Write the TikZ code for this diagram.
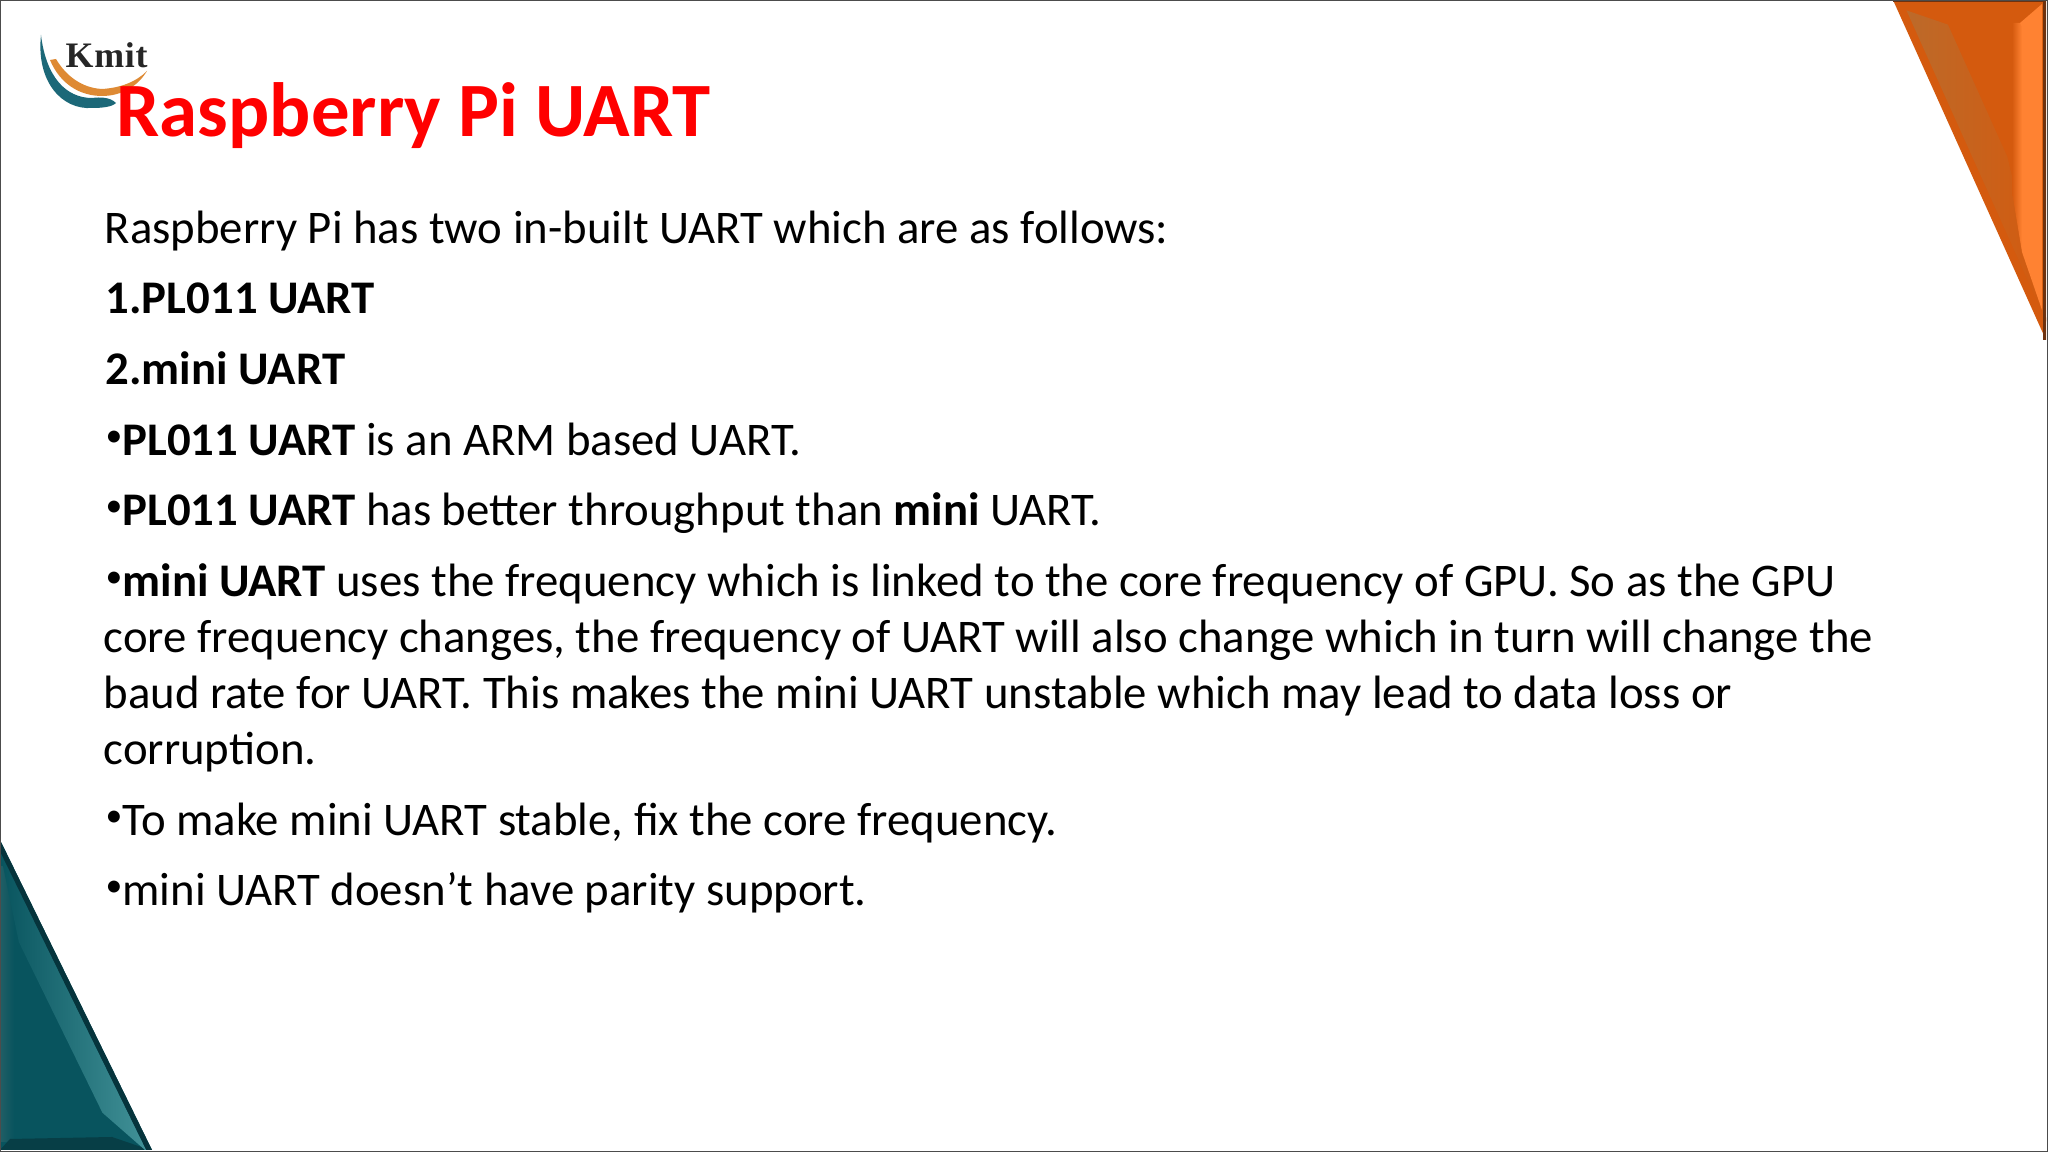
\documentclass[tikz,border=0pt]{standalone}
\usepackage{fontspec}
\setmainfont{Carlito}
\usepackage{tikz}
\usetikzlibrary{calc}
\definecolor{titlered}{RGB}{255,0,0}
\definecolor{orangemain}{RGB}{212,90,14}
\definecolor{orangelight}{RGB}{255,130,50}
\definecolor{orangedull}{RGB}{188,106,42}
\definecolor{orangedark}{RGB}{110,50,15}
\definecolor{tealmain}{RGB}{8,84,94}
\definecolor{teallight}{RGB}{66,146,152}
\definecolor{tealdark}{RGB}{6,52,60}
\definecolor{logoteal}{RGB}{28,104,120}
\definecolor{logoorange}{RGB}{222,138,52}
\newcommand{\dotmark}{\raisebox{0.2em}{\scalebox{0.72}{\textbullet}}}
\tikzset{
    bodyline/.style={anchor=base west, inner sep=0pt, font=\fontsize{13.31}{16}\selectfont},
    titleline/.style={anchor=base west, inner sep=0pt, text=titlered, font=\fontsize{21.87}{26}\selectfont\bfseries},
}
\begin{document}
\begin{tikzpicture}
    \useasboundingbox (0,0) rectangle (20.48,11.52);
    \fill[white] (0,0) rectangle (20.48,11.52);

    % Orange Corner
    \coordinate (OA) at (18.93,11.52);
    \coordinate (OB) at (20.46,11.52);
    \coordinate (OC) at (20.46,8.12);
    \fill[orangemain] (OA) -- (OB) -- (OC) -- cycle;
    \begin{scope}
        \clip (OA) -- (OB) -- (OC) -- cycle;
        % hypotenuse bevel
        \begin{scope}[shift={(OA)}, rotate=24.2]
            \shade[left color=orangedull, right color=orangemain] (0.08,-0.15) -- (0.40,-0.45) -- (0.40,-1.9) -- (0.08,-3.6) -- cycle;
        \end{scope}
        % right bevel
        \shade[left color=orangemain, right color=orangelight] (20.12,11.29) -- (20.22,11.29) -- (20.22,9.00) -- (20.12,9.60) -- cycle;
        \fill[orangelight] (20.20,11.29) -- (20.42,11.48) -- (20.42,8.42) -- (20.22,9.00) -- (20.22,11.25) -- cycle;
    \end{scope}
    \fill[orangedark] (18.93,11.52) rectangle (20.46,11.50);
    \fill[orangedark] (20.43,11.52) rectangle (20.46,8.12);

    % Teal Corner
    \coordinate (TA) at (0,3.12);
    \coordinate (TB) at (1.52,0.02);
    \coordinate (TC) at (0,0.02);
    \fill[tealmain] (TA) -- (TB) -- (TC) -- cycle;
    \begin{scope}
        \clip (TA) -- (TB) -- (TC) -- cycle;
        % left and bottom bevels
        \shade[left color=tealdark!55!teallight, right color=tealmain] (0,0.1) rectangle (0.14,2.85);
        \fill[tealdark!70!tealmain] (0,0.02) -- (1.50,0.02) -- (1.12,0.15) -- (0.10,0.13) -- cycle;
        % hypotenuse bevel
        \begin{scope}[shift={(TA)}, rotate=26.1]
            \shade[left color=tealmain, right color=teallight] (-0.05,-0.1) -- (-0.28,-1.0) -- (-0.28,-2.9) -- (-0.05,-3.45) -- cycle;
            \fill[tealdark] (-0.05,0.1) rectangle (0.02,-3.6);
        \end{scope}
    \end{scope}

    % Logo
    \fill[logoteal] (0.41,11.17) .. controls (0.36,10.70) and (0.62,10.42) .. (0.92,10.44)
        .. controls (1.02,10.44) and (1.12,10.45) .. (1.16,10.49)
        .. controls (1.10,10.55) and (1.00,10.55) .. (0.92,10.54)
        .. controls (0.66,10.54) and (0.46,10.75) .. (0.41,11.17) -- cycle;
    \fill[logoorange] (0.50,10.92) .. controls (0.60,10.68) and (0.80,10.56) .. (1.02,10.56)
        .. controls (1.22,10.56) and (1.38,10.66) .. (1.47,10.81)
        .. controls (1.36,10.70) and (1.20,10.64) .. (1.02,10.63)
        .. controls (0.82,10.64) and (0.66,10.76) .. (0.56,10.93) -- cycle;
    \node[anchor=base west, inner sep=0pt, text=black!85, font=\fontsize{10.2}{12}\selectfont] (kmit) at (0.65,10.84) {\fontspec{Liberation Serif}[LetterSpace=2]\textbf{Kmit}};

    % Title
    \node[titleline] (title) at (1.16,10.15) {Raspberry Pi UART};

    % Body
    \node[bodyline] (intro) at (1.04,9.08) {Raspberry Pi has two in-built UART which are as follows:};
    \node[bodyline] (first) at (1.05,8.38) {\textbf{1.PL011 UART}};
    \node[bodyline] (second) at (1.05,7.67) {\textbf{2.mini UART}};
    \node[bodyline] (armline) at (1.05,6.96) {\dotmark\textbf{PL011 UART} is an ARM based UART.};
    \node[bodyline] (rateline) at (1.05,6.26) {\dotmark\textbf{PL011 UART} has better throughput than \textbf{mini} UART.};
    \node[bodyline] (gpuone) at (1.05,5.55) {\dotmark\textbf{mini UART} uses the frequency which is linked to the core frequency of GPU. So as the GPU};
    \node[bodyline] (gputwo) at (1.03,4.99) {core frequency changes, the frequency of UART will also change which in turn will change the};
    \node[bodyline] (gputhree) at (1.03,4.43) {baud rate for UART. This makes the mini UART unstable which may lead to data loss or};
    \node[bodyline] (gpufour) at (1.03,3.87) {corruption.};
    \node[bodyline] (stable) at (1.05,3.16) {\dotmark To make mini UART stable, fix the core frequency.};
    \node[bodyline] (parity) at (1.05,2.46) {\dotmark mini UART doesn’t have parity support.};

    % Frame
    \draw[black!70, line width=0.6pt] (0,0) rectangle (20.48,11.52);
\end{tikzpicture}
\end{document}
